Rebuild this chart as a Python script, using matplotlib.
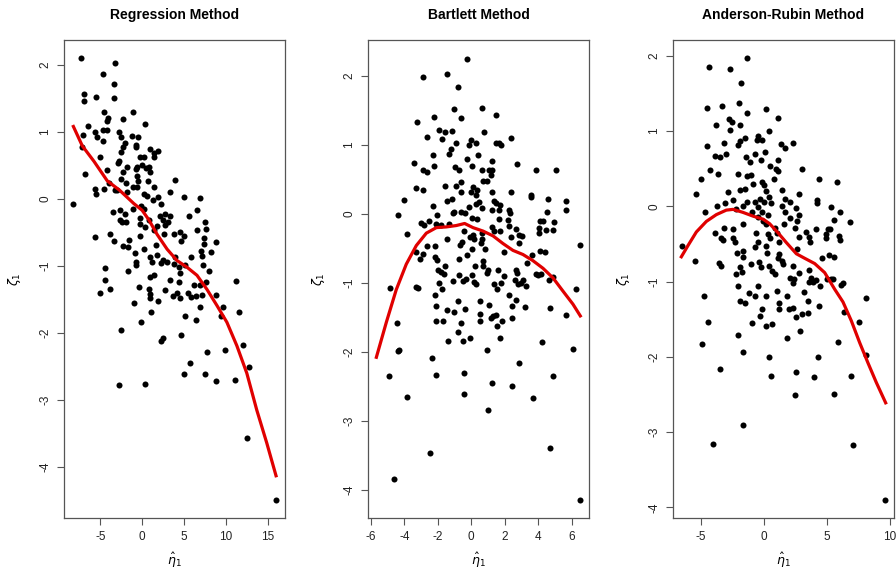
import matplotlib
matplotlib.use("Agg")
import matplotlib.pyplot as plt

plt.rcParams["font.family"] = ["Liberation Sans", "DejaVu Sans"]
plt.rcParams["mathtext.fontset"] = "dejavusans"
plt.rcParams["axes.unicode_minus"] = False

# Regression method scores (eta hat, zeta)
reg_x = [-7.34, -3.29, -4.68, -3.41, -6.98, -6.98, -5.48, -3.41, -4.56, -1.11, -4.13, -4.21, -2.30, -6.47, 0.40,
         -5.67, -5.44, -4.68, -4.17, -2.74, -2.58, -4.72, -7.02, -7.14, -2.06, -2.30, -1.19, -0.52, -0.79, -0.79,
         0.95, 1.90, 1.39, -2.50, -2.78, -2.90, -5.04, -0.20, 0.20, 1.47, -1.79, -0.60, -0.04, 0.48, 0.87,
         -0.79, -0.56, -6.87, -2.30, 0.91, -4.25, -2.58, -0.48, 0.67, 3.97, -3.97, -1.87, -1.07, -0.60, 1.39,
         -5.63, -4.56, -3.29, -5.52, -2.98, -1.79, 0.20, 0.60, 3.29, -8.25, 4.96, 6.87, 1.27, 1.87, 2.30,
         -0.08, -1.07, 0.28, 6.55, -3.45, -2.66, -2.10, -2.66, -1.87, -2.38, -0.28, -0.20, 0.83, 2.18, 2.70,
         3.37, 2.46, 3.10, 1.79, 2.78, 5.63, 7.50, 7.66, 0.40, 1.39, -3.89, -5.67, -3.37, -1.55, -0.28,
         2.58, 3.77, 4.56, 4.96, 4.68, 6.55, 7.42, 8.85, 7.42, -2.34, -1.67, -0.91, 0.28, 1.63, 7.06,
         8.17, 0.99, 1.79, 2.50, 2.98, 3.97, 5.79, 7.18, -0.79, -0.79, 1.19, 2.30, 3.77, 4.37, 5.16,
         7.26, -4.44, -1.67, 0.91, 1.47, 4.56, 7.94, -4.44, 3.37, 4.37, 7.62, 11.23, 6.15, 6.94, -0.32,
         0.83, 2.70, -3.85, -5.08, 0.99, 3.65, 4.17, 5.48, 6.39, 8.77, 0.99, 4.56, 5.83, 7.10, 1.94,
         -1.03, 6.87, 9.64, 1.03, 11.55, 5.08, 9.40, 6.47, -0.12, -2.54, 4.68, 2.54, 2.30, 9.92, 12.10,
         7.74, 5.75, 12.82, 4.96, 7.50, 8.85, 11.03, 0.40, -2.78, 12.50, 16.03]
reg_y = [2.10, 2.02, 1.87, 1.71, 1.56, 1.46, 1.52, 1.51, 1.29, 1.30, 1.21, 1.16, 1.19, 1.09, 1.11,
         1.00, 0.92, 1.03, 1.03, 1.00, 0.92, 0.87, 0.96, 0.78, 0.83, 0.78, 0.94, 0.93, 0.81, 0.78,
         0.74, 0.71, 0.68, 0.70, 0.57, 0.53, 0.62, 0.63, 0.63, 0.63, 0.48, 0.48, 0.51, 0.46, 0.48,
         0.44, 0.34, 0.37, 0.40, 0.40, 0.43, 0.29, 0.26, 0.27, 0.28, 0.23, 0.23, 0.17, 0.17, 0.17,
         0.15, 0.15, 0.14, 0.08, 0.13, 0.10, 0.07, 0.04, 0.11, -0.08, 0.03, 0.01, -0.01, 0.03, -0.07,
         -0.11, -0.15, -0.15, -0.16, -0.19, -0.17, -0.23, -0.31, -0.35, -0.34, -0.28, -0.37, -0.31, -0.25, -0.23,
         -0.26, -0.31, -0.35, -0.41, -0.39, -0.25, -0.35, -0.45, -0.42, -0.46, -0.52, -0.57, -0.63, -0.61, -0.56,
         -0.52, -0.53, -0.49, -0.56, -0.63, -0.47, -0.59, -0.64, -0.68, -0.70, -0.72, -0.80, -0.75, -0.69, -0.77,
         -0.79, -0.86, -0.84, -0.91, -0.94, -0.86, -0.86, -0.85, -0.94, -0.98, -0.94, -0.95, -0.97, -1.02, -0.99,
         -0.99, -1.03, -1.07, -1.16, -1.14, -1.10, -1.07, -1.21, -1.21, -1.24, -1.24, -1.23, -1.29, -1.28, -1.32,
         -1.35, -1.36, -1.35, -1.41, -1.42, -1.45, -1.41, -1.40, -1.45, -1.43, -1.48, -1.48, -1.47, -1.43, -1.52,
         -1.55, -1.62, -1.61, -1.69, -1.69, -1.75, -1.74, -1.80, -1.84, -1.96, -2.03, -2.07, -2.12, -2.25, -2.18,
         -2.29, -2.45, -2.51, -2.61, -2.61, -2.71, -2.70, -2.76, -2.78, -3.56, -4.49]
reg_fit_x = [-8.21, -7.14, -5.75, -4.17, -2.70, -0.99, 0.00, 0.79, 1.79, 2.98, 4.17, 5.36, 6.55, 7.74,
             8.93, 10.12, 11.31, 12.50, 13.69, 14.88, 15.99]
reg_fit_y = [1.08, 0.79, 0.56, 0.27, 0.13, -0.07, -0.17, -0.31, -0.53, -0.75, -0.92, -1.02, -1.14, -1.35,
             -1.59, -1.84, -2.19, -2.60, -3.15, -3.64, -4.13]

# Bartlett method scores
bart_x = [-0.24, -1.48, -2.87, -0.82, -1.02, 0.64, 1.48, -2.21, -0.64, -3.25, -1.93, -1.14, -1.60, 0.76, -2.67,
          2.35, -1.78, 0.00, 1.50, 0.30, -0.90, 1.66, -0.16, 1.79, -1.20, -1.36, -2.29, 0.42, -0.24, 1.24,
          -3.45, -2.21, 0.04, 2.75, -1.00, -0.76, 0.64, 1.06, 1.24, 3.85, 5.06, -2.89, -2.67, 1.16, 0.72,
          0.96, -0.64, -1.56, -0.90, -3.33, -2.87, 0.12, 0.32, -0.64, 1.26, 2.35, 3.57, 3.57, 0.00, 0.30,
          -1.16, -1.48, 4.61, 5.66, -4.03, 1.34, 1.50, 0.44, 0.26, 1.70, -2.29, -0.14, 0.62, 1.22, 1.68,
          5.68, 2.23, -1.04, -0.62, -1.10, -0.36, 2.29, 4.53, -4.41, -2.05, 0.06, 0.36, 1.64, -2.55, 2.17,
          4.09, 4.27, 4.93, -2.99, -2.85, -2.13, -1.81, -1.34, 2.25, 2.69, 4.05, 4.47, 4.89, -0.42, 1.26,
          1.36, 1.70, 0.66, 0.10, 4.03, -3.87, 2.83, 3.05, -0.10, 0.16, 0.62, -1.48, 2.39, -0.58, -0.66,
          0.60, 2.83, 6.52, -2.15, -2.63, 0.06, 0.82, 1.97, 4.13, 4.41, -3.33, -2.87, -0.24, 3.65, -3.09,
          -2.19, -2.07, -0.76, 0.68, 3.31, -1.56, 0.22, 0.68, -2.01, 0.98, 1.62, 2.65, -1.83, -1.66, 0.94,
          2.71, -0.74, 1.97, 0.04, 3.85, 3.97, 4.17, 4.87, -0.34, -1.12, -0.50, 2.59, 3.07, 4.67, 0.14,
          0.30, -1.93, 1.38, 1.75, 2.77, 2.99, 3.29, -4.87, -3.33, -3.19, -1.73, 1.52, 6.28, -2.17, 2.23,
          2.69, 0.54, -0.80, -2.09, 1.06, 2.43, 3.23, 4.73, -1.44, -0.40, -1.04, 0.50, 1.48, 5.68, 1.30,
          1.16, 2.43, -2.09, -1.71, 0.54, 1.83, -0.62, -4.47, 1.54, -0.82, 1.70, -0.06, -1.42, -0.52, 4.23,
          6.08, 0.92, -4.31, -4.41, -2.37, 2.83, -0.44, -4.91, -2.13, 4.91, 1.24, 2.43, -0.44, -3.85, 3.71,
          1.02, 4.73, -2.47, -4.65, 6.52]
bart_y = [2.25, 2.03, 1.99, 1.84, 1.52, 1.54, 1.43, 1.41, 1.39, 1.33, 1.22, 1.20, 1.19, 1.18, 1.12,
          1.10, 1.09, 1.07, 1.03, 1.03, 1.03, 1.03, 1.00, 1.00, 0.94, 0.87, 0.85, 0.85, 0.80, 0.77,
          0.74, 0.69, 0.69, 0.72, 0.68, 0.64, 0.64, 0.63, 0.63, 0.64, 0.64, 0.63, 0.61, 0.57, 0.47,
          0.47, 0.46, 0.41, 0.41, 0.37, 0.35, 0.39, 0.34, 0.32, 0.32, 0.32, 0.28, 0.24, 0.31, 0.28,
          0.21, 0.19, 0.22, 0.19, 0.20, 0.19, 0.16, 0.17, 0.14, 0.13, 0.11, 0.10, 0.08, 0.06, 0.06,
          0.06, 0.05, 0.03, 0.03, 0.01, 0.01, 0.01, 0.03, -0.01, -0.01, -0.06, -0.08, -0.07, -0.10, -0.09,
          -0.11, -0.11, -0.12, -0.13, -0.16, -0.15, -0.16, -0.15, -0.18, -0.22, -0.21, -0.23, -0.23, -0.25, -0.19,
          -0.25, -0.25, -0.28, -0.30, -0.28, -0.29, -0.30, -0.32, -0.33, -0.37, -0.36, -0.36, -0.34, -0.41, -0.45,
          -0.42, -0.42, -0.45, -0.46, -0.46, -0.51, -0.51, -0.55, -0.54, -0.56, -0.56, -0.58, -0.59, -0.59, -0.65,
          -0.62, -0.67, -0.65, -0.68, -0.72, -0.75, -0.76, -0.76, -0.82, -0.82, -0.82, -0.82, -0.85, -0.87, -0.86,
          -0.86, -0.88, -0.90, -0.89, -0.87, -0.88, -0.87, -0.91, -0.94, -0.97, -0.97, -0.96, -0.96, -0.96, -0.99,
          -1.02, -1.01, -1.02, -1.01, -1.02, -1.01, -1.05, -1.07, -1.06, -1.08, -1.09, -1.09, -1.09, -1.17, -1.18,
          -1.25, -1.26, -1.26, -1.34, -1.32, -1.34, -1.35, -1.36, -1.39, -1.38, -1.43, -1.45, -1.46, -1.46, -1.48,
          -1.51, -1.51, -1.55, -1.55, -1.55, -1.55, -1.58, -1.58, -1.62, -1.72, -1.80, -1.80, -1.84, -1.85, -1.86,
          -1.96, -1.97, -1.98, -1.99, -2.09, -2.17, -2.31, -2.35, -2.33, -2.35, -2.46, -2.49, -2.61, -2.66, -2.67,
          -2.84, -3.39, -3.47, -3.85, -4.15]
bart_fit_x = [-5.68, -5.08, -4.49, -3.89, -3.29, -2.69, -2.09, -1.50, -0.90, -0.40, 0.10, 0.70, 1.30,
              1.89, 2.49, 3.09, 3.69, 4.29, 4.89, 5.48, 6.08, 6.52]
bart_fit_y = [-2.08, -1.57, -1.10, -0.73, -0.46, -0.28, -0.20, -0.19, -0.17, -0.14, -0.20, -0.25, -0.32,
              -0.43, -0.53, -0.59, -0.68, -0.79, -0.93, -1.12, -1.31, -1.48]

# Anderson-Rubin method scores
ar_x = [-1.29, -4.33, -2.64, -1.79, -4.49, -3.30, -1.95, 0.16, -1.35, 1.16, -2.77, -2.48, -3.75, -1.85, -2.64,
        0.42, -0.42, -1.50, -1.90, -0.53, -0.13, -2.03, -3.14, 1.40, 2.32, 1.66, -4.49, -2.96, -3.83, -1.42,
        -3.46, -0.66, 0.08, -1.11, -0.21, 1.16, 0.47, 0.98, 1.16, 3.03, -4.22, -3.64, -2.03, -1.29, -1.03,
        4.38, -4.99, 0.79, -0.13, 0.05, -0.84, 5.80, -1.50, -1.85, 1.42, 0.21, -2.82, -5.33, 2.77, -0.32,
        0.45, 1.72, -2.43, -1.29, -0.69, 0.05, 0.55, 2.06, 4.25, 4.25, -3.06, -3.67, -1.64, -0.42, 1.45,
        2.59, 5.36, 6.04, 6.83, -4.64, -2.22, -0.92, -0.11, 1.72, 2.80, -0.45, 0.34, 2.06, 5.54, -1.64,
        -0.05, 0.16, 1.61, 2.61, 0.92, 4.17, 5.12, 5.28, -3.14, -2.45, 2.45, 3.38, -3.83, -0.63, 0.32,
        -2.43, -3.22, -3.40, 0.47, 1.08, 3.61, 4.91, 5.99, 2.80, -2.30, -0.42, 3.64, 1.19, 4.91, 6.02,
        0.16, -0.66, 2.64, -1.64, -2.08, 0.26, 1.19, 5.17, 5.59, -6.49, -5.41, -1.64, 1.13, 1.45, 4.64,
        -3.56, -3.38, -1.85, -1.03, -0.40, -0.18, 0.40, 2.32, 1.53, 0.66, -2.16, -1.74, 0.87, 2.77, 3.56,
        2.11, 2.40, 3.75, 4.12, 5.01, 5.36, 5.46, 3.56, 3.90, 2.32, 6.28, 6.15, 4.43, -2.03, -0.42,
        -1.16, -0.71, 0.16, 1.08, 1.85, -4.75, 3.22, 8.07, 3.51, -1.85, -1.48, 1.24, 1.24, 1.98, 2.32,
        4.38, -0.11, 6.33, 3.51, 3.03, -0.32, 2.53, 7.52, -4.38, -0.95, 0.66, 0.16, 2.85, -2.03, 1.85,
        5.91, -4.91, -1.64, 4.30, 0.42, 8.07, -3.48, 2.53, 0.55, 3.96, 6.94, 5.57, 2.45, -1.64, -4.01,
        7.07, 9.63]
ar_y = [1.97, 1.85, 1.82, 1.64, 1.31, 1.33, 1.37, 1.30, 1.24, 1.17, 1.16, 1.12, 1.08, 1.08, 1.01,
        1.00, 0.93, 0.91, 0.87, 0.88, 0.88, 0.82, 0.84, 0.83, 0.84, 0.78, 0.80, 0.70, 0.67, 0.65,
        0.65, 0.70, 0.72, 0.59, 0.61, 0.61, 0.53, 0.49, 0.47, 0.49, 0.48, 0.43, 0.43, 0.40, 0.41,
        0.37, 0.36, 0.37, 0.32, 0.28, 0.30, 0.33, 0.23, 0.22, 0.22, 0.20, 0.19, 0.17, 0.16, 0.10,
        0.12, 0.10, 0.08, 0.06, 0.06, 0.06, 0.05, 0.06, 0.09, 0.05, 0.04, 0.00, 0.01, -0.01, 0.01,
        -0.02, -0.01, -0.07, -0.21, -0.07, -0.03, -0.07, -0.08, -0.08, -0.11, -0.14, -0.12, -0.16, -0.18, -0.23,
        -0.20, -0.24, -0.24, -0.19, -0.29, -0.30, -0.30, -0.30, -0.29, -0.30, -0.29, -0.34, -0.35, -0.36, -0.37,
        -0.42, -0.45, -0.42, -0.42, -0.36, -0.41, -0.37, -0.40, -0.41, -0.47, -0.47, -0.48, -0.48, -0.42, -0.45,
        -0.52, -0.54, -0.57, -0.59, -0.62, -0.62, -0.63, -0.64, -0.67, -0.53, -0.72, -0.67, -0.69, -0.72, -0.69,
        -0.75, -0.79, -0.80, -0.77, -0.74, -0.80, -0.79, -0.79, -0.76, -0.86, -0.90, -0.87, -0.90, -0.88, -0.85,
        -0.95, -0.96, -0.95, -0.98, -0.96, -0.96, -0.97, -1.00, -1.01, -1.02, -1.02, -1.04, -1.06, -1.06, -1.06,
        -1.15, -1.19, -1.19, -1.12, -1.19, -1.19, -1.14, -1.22, -1.26, -1.26, -1.28, -1.28, -1.36, -1.36, -1.35,
        -1.32, -1.36, -1.40, -1.42, -1.43, -1.46, -1.47, -1.53, -1.54, -1.55, -1.56, -1.59, -1.65, -1.71, -1.75,
        -1.80, -1.83, -1.93, -2.00, -2.00, -1.98, -2.16, -2.20, -2.25, -2.27, -2.26, -2.49, -2.51, -2.91, -3.16,
        -3.17, -3.90]
ar_fit_x = [-6.52, -5.99, -5.33, -4.54, -3.75, -2.96, -2.43, -1.64, -0.84, -0.05, 0.47, 1.13, 1.79, 2.59,
            3.25, 4.04, 4.83, 5.62, 6.28, 6.94, 7.60, 8.26, 8.92, 9.66]
ar_fit_y = [-0.67, -0.52, -0.34, -0.20, -0.11, -0.05, -0.04, -0.08, -0.13, -0.17, -0.23, -0.35, -0.48, -0.63,
            -0.69, -0.76, -0.88, -1.10, -1.27, -1.52, -1.81, -2.08, -2.34, -2.61]

titles = ["Regression Method", "Bartlett Method", "Anderson-Rubin Method"]
y_ticks = [-4, -3, -2, -1, 0, 1, 2]

fig = plt.figure(figsize=(8.96, 5.73), dpi=100)

panels = [
    (reg_x, reg_y, reg_fit_x, reg_fit_y, 64, (-9.33, 17.06), (-4.76, 2.37), [-5, 0, 5, 10, 15]),
    (bart_x, bart_y, bart_fit_x, bart_fit_y, 368, (-6.18, 7.04), (-4.41, 2.52), [-6, -4, -2, 0, 2, 4, 6]),
    (ar_x, ar_y, ar_fit_x, ar_fit_y, 673, (-7.18, 10.32), (-4.14, 2.21), [-5, 0, 5, 10]),
]

W, H = 896, 573
for (x, y, fx, fy, left, xl, yl, xt), title in zip(panels, titles):
    ax = fig.add_axes([left / W, (H - 518) / H, 221 / W, 478 / H])
    ax.scatter(x, y, s=19, color="black", linewidths=0, zorder=2)
    ax.plot(fx, fy, color="#e00000", lw=2.3, zorder=3)
    ax.set_xlim(xl)
    ax.set_ylim(yl)
    ax.set_xticks(xt)
    ax.set_yticks(y_ticks)
    ax.set_yticklabels([str(v) for v in y_ticks], rotation=90, va="center")
    ax.tick_params(direction="out", length=5, width=0.8, colors="#555555", labelcolor="#222222",
                   labelsize=8.5, pad=4)
    for s in ax.spines.values():
        s.set_color("#555555")
        s.set_linewidth(0.9)
    ax.set_title(title, fontsize=10, fontweight="bold", pad=15)
    ax.set_xlabel(r"$\hat{\eta}_1$", fontsize=9, labelpad=6)
    ax.set_ylabel(r"$\zeta_1$", fontsize=9, labelpad=12)

fig.savefig("out.png", dpi=100)
